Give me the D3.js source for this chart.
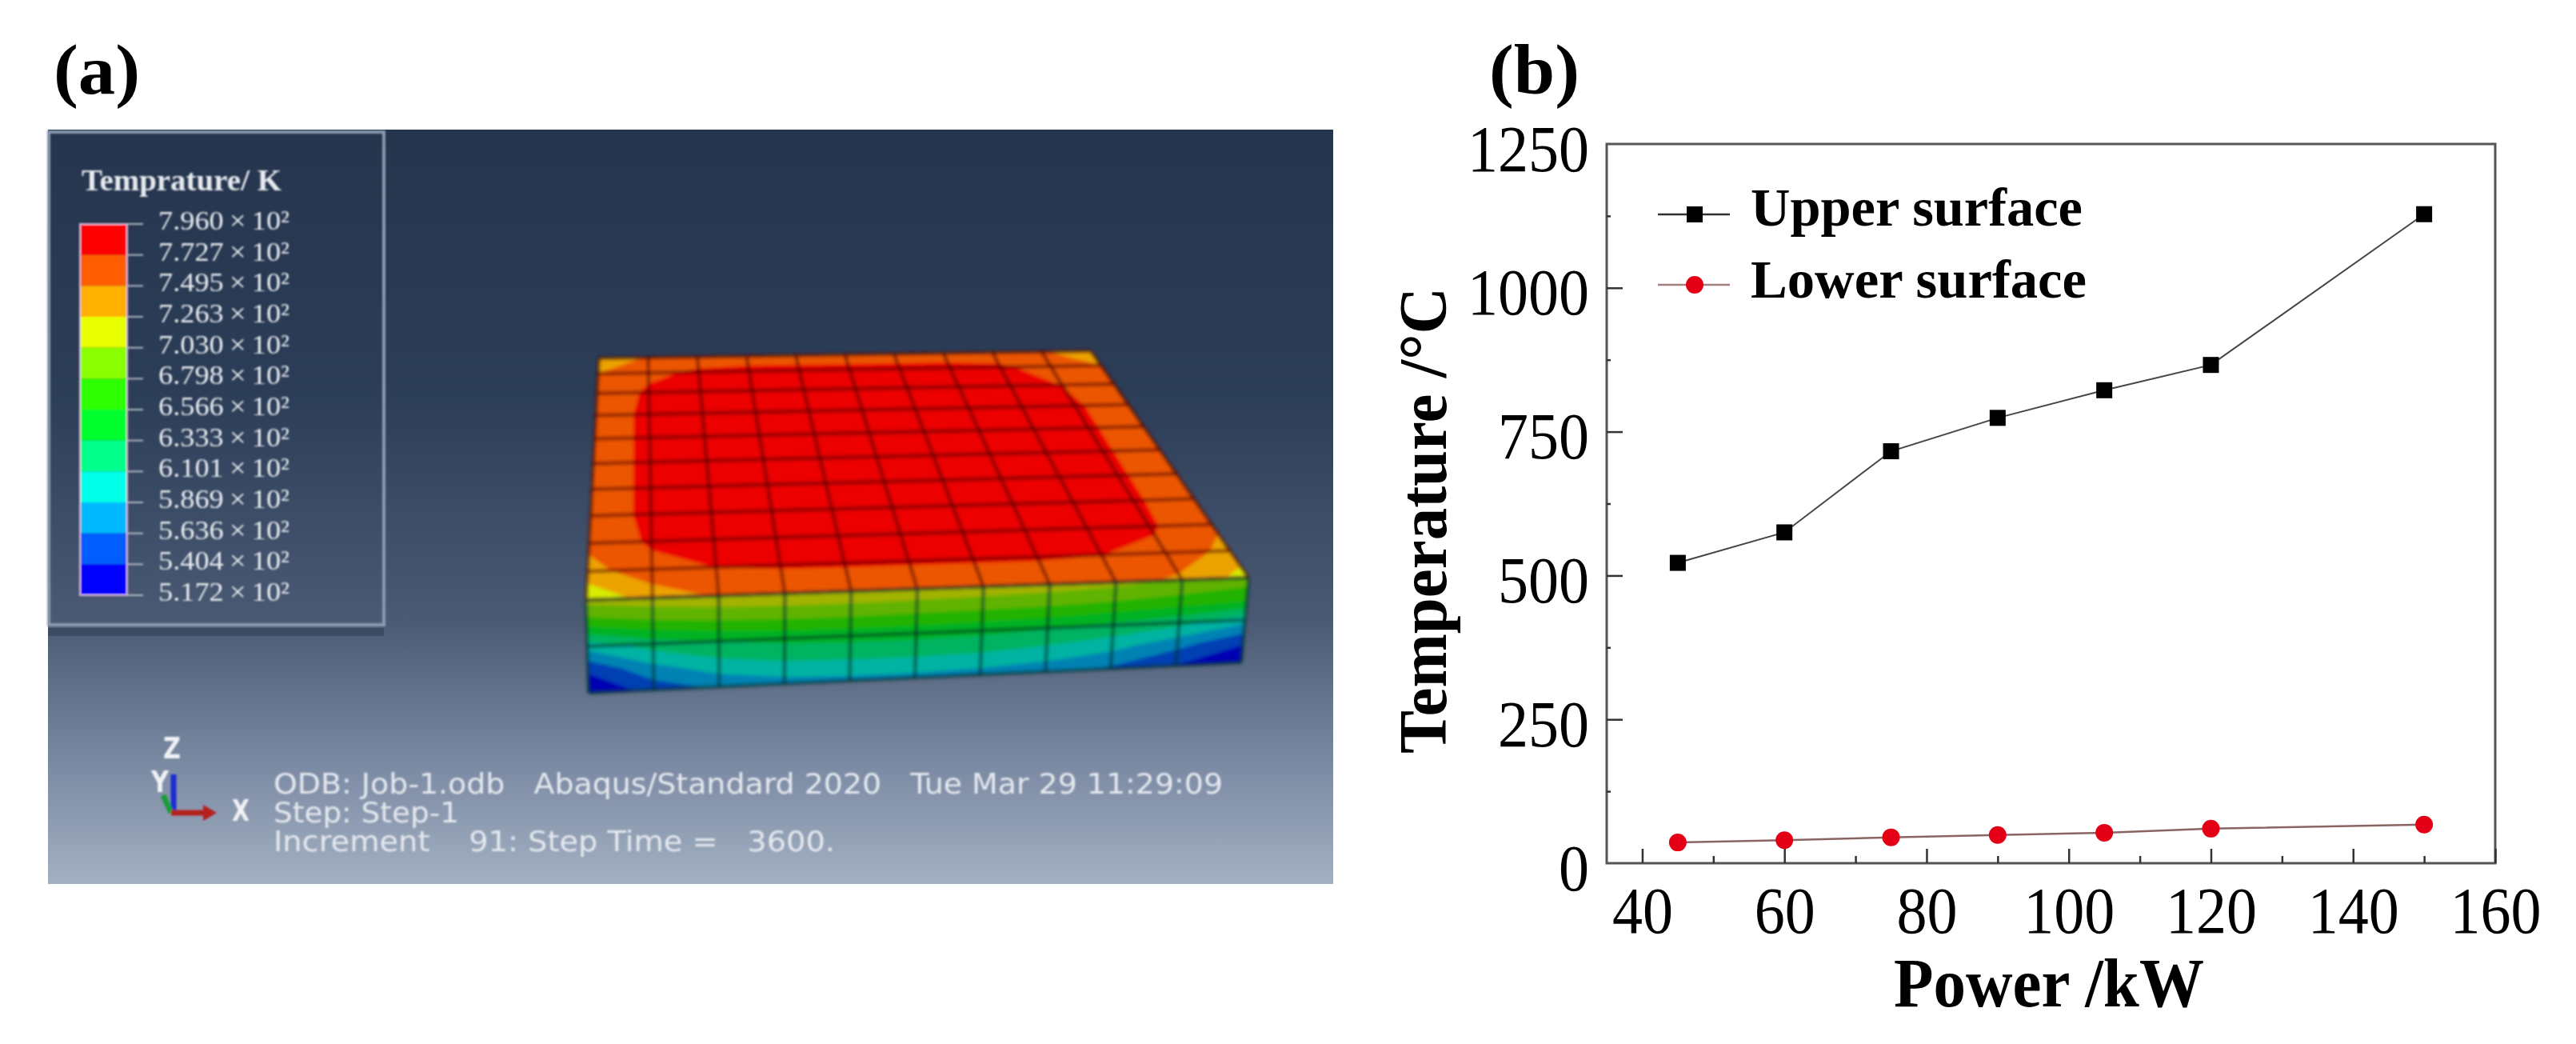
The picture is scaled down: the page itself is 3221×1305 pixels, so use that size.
<!DOCTYPE html>
<html>
<head>
<meta charset="utf-8">
<title>Temperature field and surface temperature vs power</title>
<script src="https://cdn.jsdelivr.net/npm/d3@7"></script>
<style>
  html, body { margin: 0; padding: 0; background: #fff; }
  svg { display: block; }
  text { font-family: "Liberation Serif", serif; }
</style>
</head>
<body>
<svg id="fig" width="3221" height="1305"></svg>
<script>
// (b) line chart values
const power = [45, 60, 75, 90, 105, 120, 150];
const upperSurface = [522, 575, 716, 774, 822, 866, 1128];
const lowerSurface = [36, 40, 45, 49, 53, 60, 67];
const xTicks = [40, 60, 80, 100, 120, 140, 160];
const xMinorTicks = [50, 70, 90, 110, 130, 150];
const yTicks = [0, 250, 500, 750, 1000, 1250];
const yMinorTicks = [125, 375, 625, 875, 1125];

// (a) contour legend, top to bottom
const legendLabels = ["7.960", "7.727", "7.495", "7.263", "7.030", "6.798", "6.566",
  "6.333", "6.101", "5.869", "5.636", "5.404", "5.172"];
const bandColors = ["#ff0000", "#ff5d00", "#ffb000", "#e8ff00", "#8bff00", "#2eff00",
  "#00ff2e", "#00ff8b", "#00ffe8", "#00b9ff", "#005dff", "#0000ff"];

const topFaceTemps = [
  [728, 752, 760, 762, 762, 762, 762, 762, 760, 752, 730],
  [750, 768, 776, 778, 778, 778, 778, 778, 776, 764, 750],
  [758, 776, 786, 790, 790, 790, 790, 790, 786, 772, 756],
  [760, 778, 788, 792, 794, 794, 794, 792, 788, 776, 758],
  [760, 778, 790, 794, 795, 795, 795, 794, 790, 776, 758],
  [760, 778, 790, 794, 795, 795, 795, 794, 790, 776, 758],
  [760, 778, 790, 794, 795, 795, 795, 794, 790, 776, 758],
  [760, 778, 788, 792, 794, 794, 794, 792, 788, 776, 758],
  [756, 776, 784, 788, 788, 788, 788, 788, 784, 776, 754],
  [740, 766, 773, 775, 775, 775, 775, 775, 773, 766, 742],
  [708, 735, 752, 758, 760, 760, 760, 760, 756, 745, 716]
];
const frontFaceTemps = [
  [712, 718, 722, 724, 724, 722, 720, 716, 710, 702, 692],
  [668, 678, 684, 686, 686, 684, 682, 680, 676, 670, 664],
  [596, 622, 634, 640, 642, 642, 640, 636, 628, 618, 596],
  [545, 582, 602, 610, 612, 612, 610, 604, 594, 572, 545],
  [518, 550, 568, 577, 580, 580, 577, 572, 560, 540, 518]
];

const infoLines = [
  "ODB: Job-1.odb   Abaqus/Standard 2020   Tue Mar 29 11:29:09",
  "Step: Step-1",
  "Increment    91: Step Time =   3600."
];

const svg = d3.select("#fig");
const defs = svg.append("defs");

const bgGrad = defs.append("linearGradient")
  .attr("id", "viewportBg")
  .attr("x1", 0).attr("y1", 0).attr("x2", 0).attr("y2", 1);
[[0, "#25354e"], [0.35, "#2c3d57"], [0.65, "#4a5a74"], [0.85, "#7d8ca5"], [1, "#a3b0c2"]]
  .forEach(d => bgGrad.append("stop").attr("offset", d[0]).attr("stop-color", d[1]));

const addBlur = (id, dev) => defs.append("filter").attr("id", id)
  .attr("x", "-5%").attr("y", "-5%").attr("width", "110%").attr("height", "110%")
  .append("feGaussianBlur").attr("stdDeviation", dev);
addBlur("soft", 2);
addBlur("softText", 0.9);
addBlur("softInk", 0.6);

svg.append("text").text("(a)")
  .attr("x", 67).attr("y", 117)
  .attr("font-size", 88).attr("font-weight", "bold").attr("fill", "#000")
  .attr("textLength", 108).attr("lengthAdjust", "spacingAndGlyphs")
  .attr("filter", "url(#softInk)");
svg.append("text").text("(b)")
  .attr("x", 1862).attr("y", 117)
  .attr("font-size", 88).attr("font-weight", "bold").attr("fill", "#000")
  .attr("textLength", 113).attr("lengthAdjust", "spacingAndGlyphs")
  .attr("filter", "url(#softInk)");

// ---- panel (a) ----
const panelA = svg.append("g");
panelA.append("rect")
  .attr("x", 60).attr("y", 162).attr("width", 1607).attr("height", 943)
  .attr("fill", "url(#viewportBg)");

// legend box
panelA.append("rect")
  .attr("x", 60).attr("y", 785).attr("width", 420).attr("height", 10)
  .attr("fill", "rgba(30,40,60,0.35)");
panelA.append("rect")
  .attr("x", 61).attr("y", 165).attr("width", 419).attr("height", 616)
  .attr("fill", "none").attr("stroke", "#8c9ab0").attr("stroke-width", 4)
  .attr("filter", "url(#softText)");
panelA.append("text").text("Temprature/ K")
  .attr("x", 102).attr("y", 238)
  .attr("font-size", 38).attr("font-weight", "bold").attr("fill", "#e6eaee")
  .attr("textLength", 250).attr("lengthAdjust", "spacingAndGlyphs")
  .attr("filter", "url(#softText)");

const legendScale = d3.scaleLinear().domain([0, 12]).range([280, 744]);
const legendBar = panelA.append("g").attr("filter", "url(#softText)");
legendBar.selectAll("rect.band")
  .data(bandColors)
  .join("rect")
  .attr("class", "band")
  .attr("x", 100).attr("width", 59)
  .attr("y", (d, i) => legendScale(i))
  .attr("height", (d, i) => legendScale(i + 1) - legendScale(i))
  .attr("fill", d => d);
legendBar.append("rect")
  .attr("x", 100).attr("y", legendScale(0))
  .attr("width", 59).attr("height", legendScale(12) - legendScale(0))
  .attr("fill", "none").attr("stroke", "#d9b8d8").attr("stroke-width", 2);
legendBar.selectAll("line.tick")
  .data(legendLabels)
  .join("line")
  .attr("class", "tick")
  .attr("x1", 159).attr("x2", 179)
  .attr("y1", (d, i) => legendScale(i)).attr("y2", (d, i) => legendScale(i))
  .attr("stroke", "#aeb6c4").attr("stroke-width", 2);
panelA.selectAll("text.legend-label")
  .data(legendLabels)
  .join("text")
  .attr("class", "legend-label")
  .attr("x", 198)
  .attr("y", (d, i) => legendScale(i) + 7)
  .attr("font-size", 33).attr("fill", "#e8ecf0")
  .attr("textLength", 164).attr("lengthAdjust", "spacingAndGlyphs")
  .attr("filter", "url(#softText)")
  .text(d => `${d}\u2009×\u200910²`);

// block faces: temperature contours drawn through a bilinear map of each face
const bilinear = (tl, tr, bl, br) => (u, v) => {
  const top = d3.interpolate(tl, tr)(u);
  const bottom = d3.interpolate(bl, br)(u);
  return d3.interpolate(top, bottom)(v);
};
const contourLevels = [517, 540.4, 563.6, 586.9, 610.1, 633.3, 656.6, 679.8, 703.0, 726.3, 749.5, 772.7];
const bandFill = d3.scaleOrdinal()
  .domain(contourLevels)
  .range(bandColors.slice().reverse());

function drawFace(temps, corners, rowScale, shade, meshColor) {
  const rows = temps.length;
  const cols = temps[0].length;
  const project = bilinear(...corners);
  const toU = d3.scaleLinear().domain([0.5, cols - 0.5]).range([0, 1]).clamp(true);
  const toV = d3.scaleLinear().domain([0.5, rows - 0.5]).range([0, rows - 1]).clamp(true);
  const path = d3.geoPath(d3.geoTransform({
    point(x, y) {
      const p = project(toU(x), rowScale(toV(y)));
      this.stream.point(p[0], p[1]);
    }
  }));
  const contours = d3.contours()
    .size([cols, rows])
    .thresholds(contourLevels)(temps.flat());
  const face = block.append("g");
  face.selectAll("path")
    .data(contours)
    .join("path")
    .attr("d", path)
    .attr("fill", d => d3.color(bandFill(d.value)).darker(shade).formatHex());
  return { project, meshColor };
}

function drawMesh(face, nCols, nRows, rowScale) {
  const line = d3.line();
  const us = d3.range(nCols + 1).map(i => i / nCols);
  const vs = d3.range(nRows + 1).map(j => rowScale(j * (rowScale.domain()[1] / nRows)));
  const mesh = block.append("g")
    .attr("fill", "none")
    .attr("stroke", face.meshColor)
    .attr("stroke-width", 4);
  mesh.selectAll("path.col")
    .data(us)
    .join("path")
    .attr("class", "col")
    .attr("d", u => line([face.project(u, 0), face.project(u, 1)]));
  mesh.selectAll("path.row")
    .data(vs)
    .join("path")
    .attr("class", "row")
    .attr("d", v => line([face.project(0, v), face.project(1, v)]));
}

const block = panelA.append("g").attr("filter", "url(#soft)");
const topRowScale = d3.scalePow().exponent(1.2).domain([0, 10]).range([0, 1]);
const frontRowScale = d3.scaleLinear().domain([0, 4]).range([0, 1]);
const topFace = drawFace(topFaceTemps,
  [[749, 448], [1364, 439], [733, 750], [1561, 722]],
  topRowScale, 0.22, "rgba(85,0,0,0.72)");
const frontFace = drawFace(frontFaceTemps,
  [[733, 750], [1561, 722], [736, 866], [1552, 828]],
  frontRowScale, 1, "rgba(0,50,40,0.75)");
drawMesh(topFace, 10, 10, topRowScale);
drawMesh(frontFace, 10, 2, d3.scaleLinear().domain([0, 2]).range([0, 1]));

// triad and job info
const triad = panelA.append("g").attr("filter", "url(#softText)");
triad.append("line").attr("x1", 217).attr("y1", 1016).attr("x2", 217).attr("y2", 968)
  .attr("stroke", "#1f2fd0").attr("stroke-width", 7);
triad.append("line").attr("x1", 214).attr("y1", 1016).attr("x2", 204).attr("y2", 994)
  .attr("stroke", "#1f9a3c").attr("stroke-width", 7);
triad.append("line").attr("x1", 214).attr("y1", 1016).attr("x2", 256).attr("y2", 1016)
  .attr("stroke", "#b3201f").attr("stroke-width", 7);
triad.append("path").attr("d", "M254,1006L271,1016L254,1026Z").attr("fill", "#b3201f");

const triadLabels = [["Z", 215, 948], ["Y", 200, 990], ["X", 301, 1026]];
panelA.selectAll("text.triad")
  .data(triadLabels)
  .join("text")
  .attr("class", "triad")
  .attr("x", d => d[1]).attr("y", d => d[2])
  .attr("text-anchor", "middle")
  .attr("font-size", 37).attr("font-weight", "bold").attr("fill", "#f0f2f5")
  .style("font-family", "'DejaVu Sans', sans-serif")
  .attr("textLength", 22).attr("lengthAdjust", "spacingAndGlyphs")
  .attr("filter", "url(#softText)")
  .text(d => d[0]);

const infoY = d3.scaleLinear().domain([0, 2]).range([992, 1064]);
const infoWidths = [1187, 232, 702];
panelA.selectAll("text.info")
  .data(infoLines)
  .join("text")
  .attr("class", "info")
  .attr("x", 342)
  .attr("y", (d, i) => infoY(i))
  .attr("font-size", 35).attr("fill", "#e4e8ee")
  .attr("xml:space", "preserve")
  .style("white-space", "pre")
  .style("font-family", "'DejaVu Sans', sans-serif")
  .attr("textLength", (d, i) => infoWidths[i]).attr("lengthAdjust", "spacingAndGlyphs")
  .attr("filter", "url(#softText)")
  .text(d => d);

// ---- panel (b) ----
const x = d3.scaleLinear().domain([35, 160]).range([2009, 3120]);
const y = d3.scaleLinear().domain([0, 1250]).range([1079, 180]);
const panelB = svg.append("g").attr("filter", "url(#softInk)");
const tickFont = 83;
const digitWidth = 38;

panelB.append("rect")
  .attr("x", x(35)).attr("y", y(1250))
  .attr("width", x(160) - x(35)).attr("height", y(0) - y(1250))
  .attr("fill", "none").attr("stroke", "#555").attr("stroke-width", 3);

const styleAxis = g => {
  g.select(".domain").remove();
  g.selectAll("line").attr("stroke", "#333").attr("stroke-width", 2.5);
  g.selectAll("text")
    .attr("fill", "#000")
    .attr("font-size", tickFont)
    .style("font-family", "'Liberation Serif', serif")
    .attr("textLength", d => String(d).length * digitWidth)
    .attr("lengthAdjust", "spacingAndGlyphs");
};

panelB.append("g")
  .attr("transform", `translate(0,${y(0)})`)
  .call(d3.axisBottom(x).tickValues(xTicks).tickSize(-18).tickPadding(0).tickFormat(d3.format("d")))
  .call(styleAxis)
  .call(g => g.selectAll("text").attr("y", 87).attr("dy", 0));
panelB.append("g")
  .attr("transform", `translate(0,${y(0)})`)
  .call(d3.axisBottom(x).tickValues(xMinorTicks).tickSize(-9).tickFormat(""))
  .call(styleAxis);
panelB.append("g")
  .attr("transform", `translate(${x(35)},0)`)
  .call(d3.axisLeft(y).tickValues(yTicks).tickSize(-20).tickPadding(0).tickFormat(d3.format("d")))
  .call(styleAxis)
  .call(g => g.selectAll("text").attr("x", -22).attr("y", 33).attr("dy", 0))
  .call(g => g.selectAll("line").filter(d => d === 0 || d === 1250).remove());
panelB.append("g")
  .attr("transform", `translate(${x(35)},0)`)
  .call(d3.axisLeft(y).tickValues(yMinorTicks).tickSize(-5).tickFormat(""))
  .call(styleAxis);

const seriesLine = d3.line().x((d, i) => x(power[i])).y(d => y(d));
panelB.append("path").datum(upperSurface)
  .attr("d", seriesLine).attr("fill", "none")
  .attr("stroke", "#444").attr("stroke-width", 2);
panelB.append("path").datum(lowerSurface)
  .attr("d", seriesLine).attr("fill", "none")
  .attr("stroke", "#8a6464").attr("stroke-width", 2.5);

const squareSize = 20;
const circleR = 11;
panelB.selectAll("rect.upper")
  .data(upperSurface)
  .join("rect")
  .attr("class", "upper")
  .attr("x", (d, i) => x(power[i]) - squareSize / 2)
  .attr("y", d => y(d) - squareSize / 2)
  .attr("width", squareSize).attr("height", squareSize)
  .attr("fill", "#000");
panelB.selectAll("circle.lower")
  .data(lowerSurface)
  .join("circle")
  .attr("class", "lower")
  .attr("cx", (d, i) => x(power[i]))
  .attr("cy", d => y(d))
  .attr("r", circleR)
  .attr("fill", "#e30012");

// legend
const legendRows = [
  { label: "Upper surface", rowY: 268, textY: 282, color: "#333", width: 415 },
  { label: "Lower surface", rowY: 356, textY: 372, color: "#a08080", width: 420 }
];
const legendRow = panelB.selectAll("g.legend-row")
  .data(legendRows)
  .join("g")
  .attr("class", "legend-row");
legendRow.append("line")
  .attr("x1", 2073).attr("x2", 2163)
  .attr("y1", d => d.rowY).attr("y2", d => d.rowY)
  .attr("stroke", d => d.color).attr("stroke-width", 2.5);
legendRow.append("text")
  .attr("x", 2189)
  .attr("y", d => d.textY)
  .attr("font-size", 67).attr("font-weight", "bold").attr("fill", "#000")
  .attr("textLength", d => d.width).attr("lengthAdjust", "spacingAndGlyphs")
  .text(d => d.label);
panelB.append("rect")
  .attr("x", 2109).attr("y", legendRows[0].rowY - squareSize / 2)
  .attr("width", squareSize).attr("height", squareSize).attr("fill", "#000");
panelB.append("circle")
  .attr("cx", 2119).attr("cy", legendRows[1].rowY)
  .attr("r", circleR).attr("fill", "#e30012");

// axis titles
panelB.append("text")
  .attr("transform", "translate(1808,942) rotate(-90)")
  .attr("font-size", 84).attr("font-weight", "bold").attr("fill", "#000")
  .attr("textLength", 583).attr("lengthAdjust", "spacingAndGlyphs")
  .text("Temperature /°C");
panelB.append("text")
  .attr("x", 2368).attr("y", 1258)
  .attr("font-size", 86).attr("font-weight", "bold").attr("fill", "#000")
  .attr("textLength", 388).attr("lengthAdjust", "spacingAndGlyphs")
  .text("Power /kW");
</script>
</body>
</html>
